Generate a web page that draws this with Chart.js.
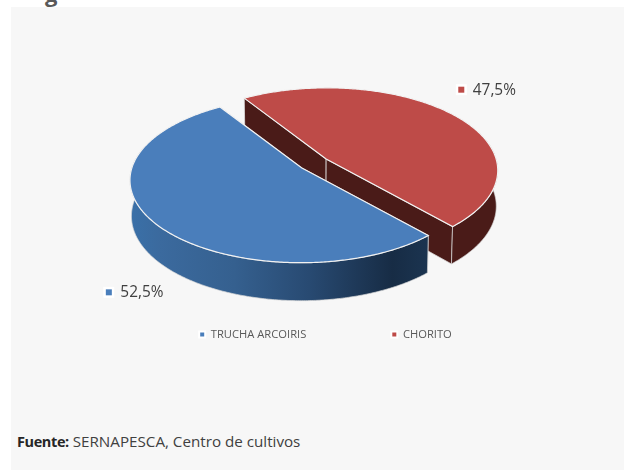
<!DOCTYPE html>
<html>
<head>
<meta charset="utf-8">
<script src="https://cdn.jsdelivr.net/npm/chart.js@4"></script>
<style>
html, body { margin: 0; background: #fff; overflow: hidden; }
#panel { position: absolute; left: 11px; top: 7px; width: 613px; height: 463px; background: #f7f7f7; }
#cut { position: absolute; left: 45px; top: -18px; font: bold 22px "Open Sans"; color: #595959; line-height: 22px; }
#note { position: absolute; left: 17px; top: 431px; font: 15.2px "Open Sans"; color: #404040; white-space: nowrap; }
#note b { color: #262626; font-size: 14.5px; letter-spacing: -0.4px; }
canvas { position: absolute; left: 0; top: 0; }
</style>
</head>
<body>
<div id="cut">g</div>
<div id="panel"></div>
<div id="note"><b>Fuente:</b> SERNAPESCA, Centro de cultivos</div>
<canvas id="myChart" width="624" height="470"></canvas>
<script>
var categories = ["TRUCHA ARCOIRIS", "CHORITO"];
var shares = [52.5, 47.5];
var topColors = ["#4a7ebb", "#be4b48"];

// projection of the pie disc on the page (tilted disc with a bit of perspective)
var view = { x: 314, y: 163.5, sx: 170, sy: 81.3, k: 0.142, skew: -1, depth: 35.5 };
var labelShift = [{ x: 31, y: 50 }, { x: -1.5, y: -12 }];

function project(u, v) {
    var w = 1 - view.k * v;
    return { x: view.sx * u / w + view.skew * v, y: view.sy * v / w };
}

function ringPoint(arc, angle) {
    var mid = (arc.startAngle + arc.endAngle) / 2;
    var off = arc.options.offset / 100;
    var p = project(Math.cos(angle), Math.sin(angle));
    return {
        x: view.x + off * view.sx * Math.cos(mid) + p.x,
        y: view.y + off * view.sy * Math.sin(mid) + p.y,
        v: Math.sin(angle)
    };
}

function apexPoint(arc) {
    var mid = (arc.startAngle + arc.endAngle) / 2;
    var off = arc.options.offset / 100;
    return {
        x: view.x + off * view.sx * Math.cos(mid),
        y: view.y + off * view.sy * Math.sin(mid),
        v: 0
    };
}

// same point on the bottom face of the pie
function lower(p) {
    return {
        x: view.x + (p.x - view.x) * 0.992,
        y: p.y + view.depth * (1 + 0.07 * p.v)
    };
}

function polygon(ctx, pts) {
    ctx.beginPath();
    pts.forEach(function(p, i) {
        if (i == 0) ctx.moveTo(p.x, p.y);
        else ctx.lineTo(p.x, p.y);
    });
    ctx.closePath();
}

function sideStyle(ctx, index) {
    if (index == 1) return "#4a1b18";
    var g = ctx.createLinearGradient(130, 0, 428, 0);
    g.addColorStop(0, "#3a70a8");
    g.addColorStop(0.1, "#3b6a9e");
    g.addColorStop(0.35, "#35608f");
    g.addColorStop(0.6, "#284a72");
    g.addColorStop(0.88, "#172c45");
    g.addColorStop(1, "#1b3450");
    return g;
}

function drawSlice(ctx, arc, index) {
    var steps = Math.ceil((arc.endAngle - arc.startAngle) / 0.01);
    var ring = [];
    for (var i = 0; i <= steps; i++) {
        ring.push(ringPoint(arc, arc.startAngle + (arc.endAngle - arc.startAngle) * i / steps));
    }
    var apex = apexPoint(arc);
    var first = ring[0], last = ring[ring.length - 1];
    var fill = sideStyle(ctx, index);

    // radial faces
    [first, last].forEach(function(edge) {
        polygon(ctx, [apex, edge, lower(edge), lower(apex)]);
        ctx.fillStyle = fill;
        ctx.fill();
        ctx.strokeStyle = "rgba(225,225,225,0.75)";
        ctx.lineWidth = 1;
        ctx.stroke();
    });

    // outer wall, only the part turned to the viewer
    var front = ring.filter(function(p) { return p.v >= -0.3; });
    polygon(ctx, front.concat(front.slice().reverse().map(lower)));
    ctx.fillStyle = fill;
    ctx.fill();
    ctx.strokeStyle = "rgba(215,215,215,0.7)";
    ctx.stroke();

    // top face
    polygon(ctx, [apex].concat(ring));
    ctx.fillStyle = arc.options.backgroundColor;
    ctx.fill();
    ctx.strokeStyle = "#f2f2f2";
    ctx.lineWidth = 1.2;
    ctx.stroke();
}

function drawLabel(ctx, arc, index, value) {
    var mid = (arc.startAngle + arc.endAngle) / 2;
    var p = project(1.4 * Math.cos(mid), 1.4 * Math.sin(mid));
    var x = view.x + p.x + labelShift[index].x;
    var y = view.y + p.y + labelShift[index].y;
    var text = value.toFixed(1).replace(".", ",") + "%";
    ctx.fillStyle = "#fff";
    ctx.fillRect(x - 26, y - 5.5, 11, 11);
    ctx.fillStyle = topColors[index];
    ctx.fillRect(x - 23.5, y - 3, 6, 6);
    ctx.fillStyle = "#404040";
    ctx.font = '15.4px "Open Sans"';
    ctx.textAlign = "left";
    ctx.textBaseline = "middle";
    ctx.fillText(text, x - 9, y + 0.5);
}

var pie3d = {
    id: "pie3d",
    beforeDatasetsDraw: function(chart) {
        var ctx = chart.ctx;
        var arcs = chart.getDatasetMeta(0).data;
        ctx.save();
        // back slice first, the front one covers it
        drawSlice(ctx, arcs[1], 1);
        drawSlice(ctx, arcs[0], 0);
        arcs.forEach(function(arc, i) {
            drawLabel(ctx, arc, i, shares[i]);
        });
        ctx.restore();
        return false;
    }
};

window.addEventListener("DOMContentLoaded", function(event) {
    var ctx = document.getElementById("myChart");
    var myChart = new Chart(ctx, {
        type: "pie",
        data: {
            labels: categories,
            datasets: [{
                data: shares,
                backgroundColor: topColors,
                borderColor: "#ffffff",
                borderWidth: 2,
                offset: 9
            }]
        },
        options: {
            responsive: false,
            animation: false,
            rotation: 138,
            layout: { padding: { left: 27, bottom: 120 } },
            plugins: {
                tooltip: { enabled: false },
                legend: {
                    position: "bottom",
                    labels: {
                        boxWidth: 6,
                        boxHeight: 6,
                        padding: 85,
                        color: "#595959",
                        font: { family: "Open Sans", size: 11.2 }
                    }
                }
            }
        },
        plugins: [pie3d]
    });
});
</script>
</body>
</html>
